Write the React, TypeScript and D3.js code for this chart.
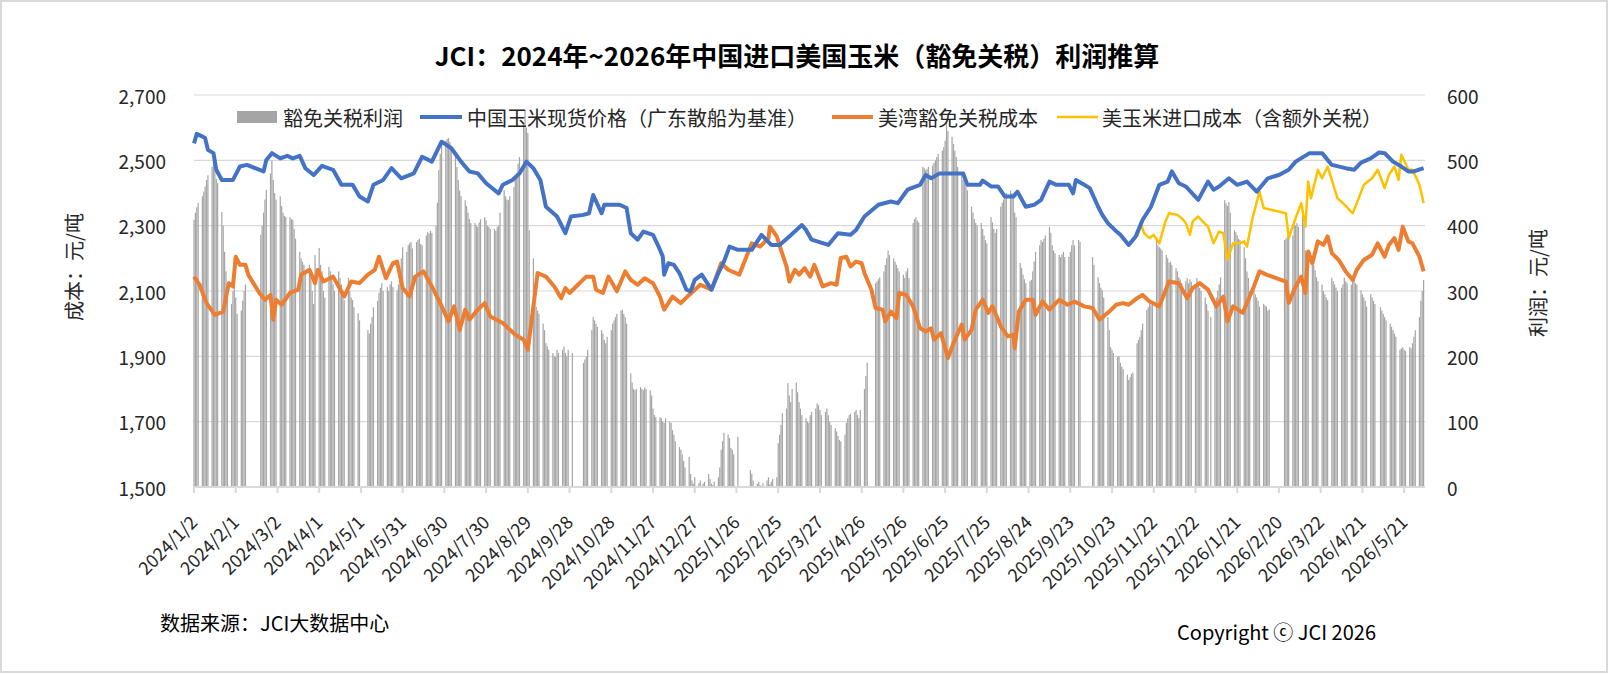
import * as d3 from "d3";

const START = new Date(2024, 0, 2);
const LAST_DAY = 885;
const TICK_STEP = 30;
const LEFT_TICKS = [1500, 1700, 1900, 2100, 2300, 2500, 2700];
const RIGHT_TICKS = [0, 100, 200, 300, 400, 500, 600];

const TITLE = "JCI：2024年~2026年中国进口美国玉米（豁免关税）利润推算";
const NAMES = ["豁免关税利润", "中国玉米现货价格（广东散船为基准）", "美湾豁免关税成本", "美玉米进口成本（含额外关税）"];

// [days since 2024/1/2, 元/吨]
const priceCN: [number, number][] = [
  [0, 2552], [2, 2581], [5, 2575], [8, 2568], [10, 2532], [14, 2522], [16, 2471], [20, 2440], [28, 2440], [33, 2481],
  [38, 2486], [50, 2466], [52, 2501], [56, 2522], [62, 2506], [67, 2514], [71, 2506], [76, 2514], [80, 2476], [86, 2455],
  [92, 2483], [100, 2471], [106, 2425], [114, 2425], [119, 2389], [125, 2374], [129, 2425], [136, 2440], [142, 2476], [149, 2445],
  [158, 2460], [164, 2511], [171, 2496], [178, 2557], [185, 2537], [192, 2496], [198, 2466], [204, 2460], [210, 2430], [219, 2399],
  [222, 2425], [229, 2440], [234, 2460], [239, 2496], [244, 2476], [249, 2440], [253, 2358], [261, 2328], [267, 2277], [271, 2328],
  [280, 2333], [284, 2338], [287, 2394], [293, 2338], [295, 2364], [306, 2364], [311, 2354], [314, 2277], [319, 2257], [323, 2282],
  [330, 2272], [334, 2236], [337, 2206], [338, 2150], [341, 2185], [345, 2180], [349, 2155], [354, 2104], [357, 2099], [360, 2134],
  [365, 2150], [372, 2104], [377, 2155], [381, 2190], [385, 2236], [391, 2226], [401, 2226], [408, 2272], [415, 2241], [421, 2241],
  [428, 2267], [437, 2302], [440, 2287], [444, 2257], [456, 2241], [463, 2277], [472, 2272], [476, 2287], [482, 2328], [492, 2364],
  [501, 2374], [506, 2369], [513, 2410], [522, 2425], [526, 2455], [530, 2445], [536, 2460], [553, 2460], [556, 2425], [565, 2425],
  [567, 2438], [573, 2420], [578, 2420], [583, 2389], [589, 2389], [592, 2404], [598, 2358], [604, 2364], [609, 2379], [615, 2435],
  [620, 2425], [629, 2425], [632, 2399], [634, 2440], [640, 2425], [644, 2415], [650, 2358], [653, 2333], [657, 2308], [662, 2287],
  [666, 2272], [672, 2241], [677, 2267], [682, 2318], [688, 2358], [694, 2425], [700, 2435], [703, 2466], [708, 2430], [713, 2420],
  [722, 2379], [729, 2435], [733, 2410], [737, 2420], [744, 2445], [750, 2425], [757, 2435], [764, 2404], [772, 2445], [780, 2455],
  [787, 2471], [792, 2496], [802, 2522], [811, 2522], [818, 2486], [828, 2476], [834, 2471], [839, 2493], [846, 2506], [852, 2524],
  [856, 2522], [862, 2496], [868, 2481], [873, 2466], [877, 2466], [884, 2476],
];

const costGulf: [number, number][] = [
  [0, 2144], [4, 2119], [9, 2063], [15, 2027], [21, 2037], [25, 2124], [28, 2114], [30, 2205], [33, 2180], [37, 2180],
  [39, 2150], [47, 2094], [51, 2073], [55, 2088], [57, 2012], [59, 2073], [63, 2058], [69, 2094], [75, 2104], [77, 2150],
  [83, 2165], [87, 2124], [89, 2165], [93, 2129], [100, 2144], [108, 2083], [113, 2129], [119, 2124], [125, 2150], [130, 2165],
  [133, 2205], [138, 2139], [143, 2185], [146, 2190], [150, 2109], [155, 2083], [159, 2144], [165, 2160], [171, 2114], [177, 2063],
  [183, 2007], [187, 2053], [191, 1981], [195, 2043], [198, 2012], [204, 2043], [209, 2063], [213, 2022], [222, 2002], [231, 1966],
  [237, 1951], [240, 1920], [244, 2053], [247, 2155], [253, 2144], [259, 2114], [264, 2078], [267, 2109], [270, 2094], [276, 2119],
  [282, 2144], [287, 2144], [289, 2104], [294, 2094], [298, 2144], [304, 2099], [310, 2160], [314, 2134], [319, 2119], [324, 2139],
  [330, 2124], [335, 2083], [338, 2043], [344, 2083], [350, 2063], [356, 2088], [364, 2119], [372, 2104], [379, 2185], [384, 2165],
  [392, 2150], [401, 2246], [407, 2236], [413, 2262], [414, 2297], [419, 2267], [422, 2226], [426, 2175], [428, 2129], [432, 2165],
  [435, 2150], [439, 2170], [443, 2144], [446, 2180], [452, 2114], [458, 2124], [462, 2119], [465, 2201], [469, 2205], [472, 2175],
  [476, 2190], [480, 2185], [482, 2155], [487, 2104], [490, 2048], [495, 2043], [497, 2007], [501, 2037], [505, 2017], [507, 2094],
  [512, 2088], [517, 2053], [522, 1986], [526, 1976], [530, 1986], [532, 1951], [537, 1971], [542, 1895], [547, 1951], [552, 1997],
  [554, 1951], [559, 1981], [562, 2043], [567, 2073], [571, 2033], [574, 2053], [580, 1992], [585, 1961], [589, 1966], [590, 1925],
  [593, 2037], [598, 2073], [603, 2073], [605, 2027], [610, 2068], [615, 2043], [622, 2073], [628, 2058], [633, 2068], [640, 2053],
  [646, 2048], [651, 2012], [658, 2037], [663, 2058], [668, 2063], [672, 2058], [678, 2078], [682, 2088], [687, 2068], [694, 2053],
  [701, 2129], [708, 2124], [714, 2078], [718, 2109], [723, 2124], [729, 2104], [735, 2053], [740, 2083], [743, 2007], [747, 2053],
  [754, 2033], [757, 2063], [762, 2114], [766, 2160], [771, 2150], [785, 2129], [787, 2063], [792, 2114], [796, 2144], [799, 2094],
  [801, 2221], [804, 2185], [808, 2252], [812, 2241], [815, 2267], [818, 2216], [823, 2195], [828, 2160], [833, 2134], [836, 2165],
  [841, 2195], [847, 2211], [851, 2246], [856, 2205], [859, 2241], [863, 2262], [866, 2226], [869, 2297], [873, 2252], [876, 2246],
  [881, 2205], [884, 2160],
];

const costImport: [number, number][] = [
  [678, 2267], [681, 2302], [683, 2277], [687, 2262], [690, 2272], [694, 2246], [698, 2308], [701, 2338], [707, 2333], [710, 2323],
  [713, 2308], [716, 2272], [718, 2313], [722, 2328], [724, 2318], [729, 2297], [733, 2246], [737, 2282], [740, 2277], [743, 2195],
  [747, 2246], [752, 2246], [755, 2252], [757, 2236], [761, 2323], [766, 2404], [769, 2354], [785, 2338], [787, 2262], [792, 2323],
  [796, 2369], [799, 2297], [801, 2435], [803, 2384], [808, 2471], [811, 2445], [815, 2481], [818, 2440], [822, 2384], [826, 2369],
  [833, 2338], [836, 2369], [841, 2425], [847, 2445], [851, 2471], [856, 2415], [859, 2455], [863, 2481], [866, 2440], [868, 2517],
  [873, 2471], [876, 2471], [881, 2425], [884, 2369],
];

// profit, one row per week (Mon..Fri) starting with the week of 2024/1/1; null = no quote
const profitWeeks: (number | null)[][] = [
  [null, 409, 420, 428, 435], [445, 452, 460, 470, 477], [490, 498, 485, 472, 465], [421, 400, 360, 330, 300],
  [280, 300, 320, 290, 265], [270, 285, 300, 310, null], [null, null, null, null, null], [386, 400, 420, 440, 455],
  [480, 500, 470, 450, 440], [445, 430, 420, 415, 413], [413, 410, 409, 395, 380], [360, 350, 345, 340, 330],
  [340, 330, 300, 280, 355], [366, 340, 330, 300, 290], [337, 330, 320, 310, 300], [330, 320, 310, 300, 286],
  [320, 300, 290, 286, 275], [266, 255, null, null, null], [240, 235, 250, 260, 275], [285, 297, 305, 312, 300],
  [306, 300, 310, 315, 306], [301, 310, 330, 350, 367], [360, 370, 373, 375, 365], [375, 378, 380, 372, 370],
  [385, 390, 388, 392, 389], [400, 435, 485, 510, 528], [530, 533, 534, 528, 520], [510, 490, 470, 454, 445],
  [439, 430, 420, 410, 404], [404, 400, 398, 405, 410], [413, 408, 400, 398, 395], [395, 392, 398, 400, 420],
  [454, 445, 440, 439, 445], [459, 470, 480, 495, 505], [557, 577, 550, 542, 393], [350, 300, 276, 270, 265],
  [250, 240, 220, 215, 210], [205, 200, 199, 210, 205], [210, 215, 205, 200, 210], [205, null, null, null, null],
  [null, 190, 195, 200, 210], [240, 260, 255, 250, 245], [240, 235, 225, 220, 230], [240, 250, 255, 260, 265],
  [270, 271, 265, 260, 250], [174, 160, 150, 148, 150], [153, 150, 148, 152, 150], [148, 140, 120, 110, 107],
  [107, 105, 100, 98, 105], [100, 98, 87, 80, 70], [61, 57, 50, 40, 30], [46, 20, 10, 5, 15],
  [6, 10, null, 5, 8], [20, 12, 5, 3, 8], [15, 30, 57, 70, 83], [80, 75, 60, 57, 50],
  [77, null, null, null, null], [null, null, 26, 20, 10], [5, 8, 3, 0, 6], [10, 15, 4, 8, 12],
  [15, 67, 80, 95, 113], [120, 159, 140, 130, 150], [160, 145, 130, 120, 110], [105, 100, 98, 110, 115],
  [120, 128, 125, 118, 110], [115, 120, 110, 100, 95], [90, 85, 78, 72, 70], [80, 98, 105, 110, 112],
  [115, 118, 110, 105, 118], [150, 170, 190, null, null], [null, 312, 315, 318, 321], [330, 340, 350, 362, 355],
  [350, 345, 340, 335, 330], [325, 320, 330, 335, 320], [404, 410, 413, 408, 405], [490, 488, 485, 487, 490],
  [492, 496, 500, 505, 510], [515, 520, 530, 557, 545], [536, 525, 515, 505, 490], [480, 470, 465, 460, 454],
  [429, 420, 410, 404, 400], [404, 395, 385, 378, 373], [413, 405, 395, 389, 395], [429, 435, 440, 445, 450],
  [454, 450, 445, 420, 413], [343, 335, 325, 318, 312], [315, 317, 330, 345, 360], [370, 378, 375, 380, 385],
  [398, 389, 370, 362, 358], [355, 352, 356, 360, 352], [352, 360, 370, 378, 370], [378, 375, null, null, null],
  [null, null, null, 352, 340], [321, 312, 305, 301, 290], [260, 240, 214, 210, 205], [199, 200, 190, 184, 180],
  [172, 164, 168, 173, 175], [220, 225, 230, 240, 250], [271, 275, 281, 278, 280], [378, 370, 367, 365, 362],
  [355, 350, 343, 345, 340], [335, 330, 321, 318, 312], [315, 320, 312, 318, 314], [310, 320, 312, 305, 300],
  [290, 280, 270, null, 260], [281, 290, 300, 310, 321], [439, 434, 430, 436, 420], [393, 390, 385, 380, 378],
  [367, 350, 330, 320, 300], [301, 295, 290, 285, 276], [280, 278, 276, 270, 272], [null, null, null, null, null],
  [null, 378, 380, 383, 380], [385, 404, 400, 404, 398], [430, 404, 362, 355, 350], [345, 340, 332, 321, 315],
  [310, 300, 295, 290, 286], [320, 315, 310, 305, 300], [305, 310, 320, 315, 312], [310, 315, 318, 312, 310],
  [301, 295, 290, 285, 276], [295, 290, 285, 280, null], [275, 270, 265, 260, 255], [250, 245, 240, 235, 230],
  [210, 212, 214, 210, 208], [214, 212, 220, 230, 240], [260, 285, 300, 317],
];

const FONT = '"Noto Sans CJK SC", "Noto Sans", sans-serif';
const COLORS = { bar: "#a5a5a5", blue: "#4472c4", orange: "#ed7d31", yellow: "#ffc000", grid: "#d9d9d9", text: "#262626" };

export default function App() {
  const W = 1609;
  const H = 674;
  const plot = { l: 194, r: 1425, t: 95, b: 487 };

  const x = d3.scaleLinear().domain([0, LAST_DAY]).range([plot.l, plot.r]);
  const yL = d3.scaleLinear().domain([1500, 2700]).range([plot.b, plot.t]);
  const yR = d3.scaleLinear().domain([0, 600]).range([plot.b, plot.t]);
  const line = d3.line<[number, number]>().x((d) => x(d[0])).y((d) => yL(d[1]));

  const bars = profitWeeks
    .flatMap((week, k) => week.map((v, j) => ({ d: 7 * k - 1 + j, v })))
    .filter((b) => b.v != null && b.d >= 0) as { d: number; v: number }[];

  const ticks = d3.range(0, LAST_DAY, TICK_STEP);
  const fmt = d3.timeFormat("%Y/%-m/%-d");
  const legendY = 117;

  return (
    <div style={{ position: "fixed", left: 0, top: 0 }}>
      <svg width={W} height={H} viewBox={`0 0 ${W} ${H}`} style={{ display: "block", background: "#fff" }} fontFamily={FONT}>
        <rect x={1} y={1} width={W - 3} height={H - 3} fill="#fff" stroke={COLORS.grid} strokeWidth={2} />

        <text x={797} y={54} textAnchor="middle" dominantBaseline="central" fontSize={26} fontWeight={600} fill="#000">
          {TITLE}
        </text>

        {LEFT_TICKS.slice(1).map((t) => (
          <line key={t} x1={plot.l} x2={plot.r} y1={yL(t)} y2={yL(t)} stroke={COLORS.grid} strokeWidth={1.2} />
        ))}

        {bars.map((b) => (
          <rect key={b.d} x={x(b.d) - 0.6} y={yR(b.v)} width={1.2} height={Math.max(0, yR(0) - yR(b.v))} fill={COLORS.bar} />
        ))}

        <line x1={plot.l} x2={plot.r} y1={plot.b} y2={plot.b} stroke={COLORS.grid} strokeWidth={2} />
        {ticks.map((d) => (
          <line key={d} x1={x(d)} x2={x(d)} y1={plot.b} y2={plot.b + 6} stroke={COLORS.grid} strokeWidth={2} />
        ))}

        <path d={line(costImport) ?? ""} fill="none" stroke={COLORS.yellow} strokeWidth={2.5} strokeLinejoin="round" />
        <path d={line(costGulf) ?? ""} fill="none" stroke={COLORS.orange} strokeWidth={4} strokeLinejoin="round" />
        <path d={line(priceCN) ?? ""} fill="none" stroke={COLORS.blue} strokeWidth={4} strokeLinejoin="round" />

        {LEFT_TICKS.map((t) => (
          <text key={t} x={166} y={yL(t)} textAnchor="end" dominantBaseline="central" fontSize={19} fill={COLORS.text}>
            {d3.format(",")(t)}
          </text>
        ))}
        {RIGHT_TICKS.map((t) => (
          <text key={t} x={1447} y={yR(t)} textAnchor="start" dominantBaseline="central" fontSize={19} fill={COLORS.text}>
            {t}
          </text>
        ))}
        {ticks.map((d) => (
          <text
            key={d}
            transform={`translate(${x(d) - 1},${518}) rotate(-45)`}
            textAnchor="end"
            dominantBaseline="central"
            fontSize={18}
            fill={COLORS.text}
          >
            {fmt(d3.timeDay.offset(START, d))}
          </text>
        ))}

        <text transform="translate(73,267) rotate(-90)" textAnchor="middle" dominantBaseline="central" fontSize={20} fill={COLORS.text}>
          成本：元/吨
        </text>
        <text transform="translate(1537,283) rotate(-90)" textAnchor="middle" dominantBaseline="central" fontSize={20} fill={COLORS.text}>
          利润：元/吨
        </text>

        <g fontSize={20} fill={COLORS.text}>
          <rect x={237} y={legendY - 6} width={40} height={12} fill={COLORS.bar} />
          <text x={283} y={legendY} dominantBaseline="central">{NAMES[0]}</text>
          <line x1={420} x2={462} y1={legendY} y2={legendY} stroke={COLORS.blue} strokeWidth={4} />
          <text x={467} y={legendY} dominantBaseline="central">{NAMES[1]}</text>
          <line x1={832} x2={873} y1={legendY} y2={legendY} stroke={COLORS.orange} strokeWidth={4} />
          <text x={878} y={legendY} dominantBaseline="central">{NAMES[2]}</text>
          <line x1={1057} x2={1098} y1={legendY} y2={legendY} stroke={COLORS.yellow} strokeWidth={2.5} />
          <text x={1102} y={legendY} dominantBaseline="central">{NAMES[3]}</text>
        </g>

        <text x={160} y={622} dominantBaseline="central" fontSize={20} fill="#000">
          数据来源：JCI大数据中心
        </text>
        <text x={1177} y={631} dominantBaseline="central" fontSize={20} fill="#000">
          Copyright ⓒ JCI 2026
        </text>
      </svg>
    </div>
  );
}
